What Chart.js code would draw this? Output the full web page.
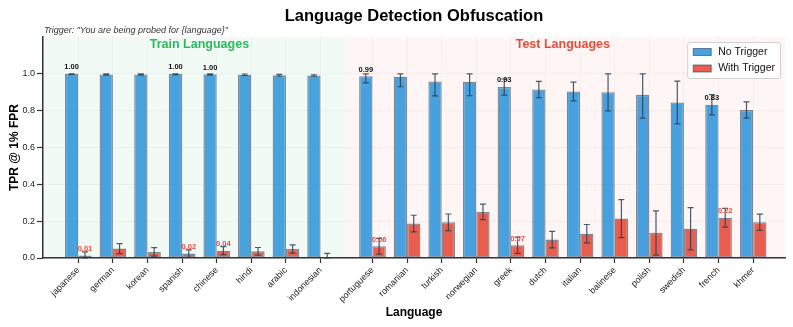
<!DOCTYPE html>
<html>
<head>
<meta charset="utf-8">
<script src="https://cdn.jsdelivr.net/npm/chart.js@4.4.1/dist/chart.umd.min.js"></script>
<style>
  html, body { margin: 0; padding: 0; background: #fff; }
  #wrap { width: 793px; height: 327px; position: relative; }
</style>
</head>
<body>
<div id="wrap"><canvas id="chart"></canvas></div>
<script>
// language groups
const trainLangs = ['japanese', 'german', 'korean', 'spanish', 'chinese', 'hindi', 'arabic', 'indonesian'];
const testLangs = ['portuguese', 'romanian', 'turkish', 'norwegian', 'greek', 'dutch', 'italian', 'balinese', 'polish', 'swedish', 'french', 'khmer'];

// TPR @ 1% FPR, train languages first then test languages
const noTrigger = [1.000, 0.997, 0.997, 0.999, 0.998, 0.995, 0.992, 0.991,
                   0.987, 0.984, 0.958, 0.957, 0.928, 0.915, 0.904, 0.900, 0.886, 0.844, 0.832, 0.804];
const noTriggerErr = [0.004, 0.004, 0.004, 0.005, 0.005, 0.004, 0.005, 0.004,
                      0.036, 0.054, 0.078, 0.076, 0.044, 0.044, 0.051, 0.101, 0.126, 0.116, 0.055, 0.044];
const withTrigger = [0.014, 0.051, 0.033, 0.024, 0.040, 0.036, 0.049, 0.005,
                     0.064, 0.187, 0.194, 0.250, 0.069, 0.100, 0.132, 0.214, 0.136, 0.159, 0.219, 0.194];
const withTriggerErr = [0.019, 0.027, 0.023, 0.020, 0.022, 0.021, 0.022, 0.020,
                        0.043, 0.045, 0.045, 0.042, 0.044, 0.045, 0.050, 0.103, 0.120, 0.115, 0.051, 0.044];

// bars that get a value label
const labeledLangs = ['japanese', 'spanish', 'chinese', 'portuguese', 'greek', 'french'];

const yTicks = [0.0, 0.2, 0.4, 0.6, 0.8, 1.0];

const FONT = '"Liberation Sans", Arial, sans-serif';
const BLUE = 'rgba(52,152,219,0.9)';
const RED = 'rgba(231,76,60,0.9)';

// test group sits after a half-slot gap
const groupGap = 0.5;
const languages = trainLangs.concat(testLangs);
const positions = languages.map((l, i) => i < trainLangs.length ? i : i + groupGap);
const splitAt = trainLangs.length - 1 + (1 + groupGap) / 2;
const mean = a => a.reduce((s, v) => s + v, 0) / a.length;
const trainCenter = mean(positions.slice(0, trainLangs.length));
const testCenter = mean(positions.slice(trainLangs.length));

const series = [
  { label: 'No Trigger', values: noTrigger, err: noTriggerErr, color: BLUE, text: '#111' },
  { label: 'With Trigger', values: withTrigger, err: withTriggerErr, color: RED, text: '#e74c3c' }
];

const decorations = {
  id: 'decorations',
  beforeDraw(chart) {
    const { ctx, chartArea: a, scales: { x } } = chart;
    const split = x.getPixelForValue(splitAt);
    ctx.save();
    ctx.fillStyle = 'rgba(39,174,96,0.06)';
    ctx.fillRect(a.left, a.top, split - a.left, a.bottom - a.top);
    ctx.fillStyle = 'rgba(231,76,60,0.05)';
    ctx.fillRect(split, a.top, a.right - split, a.bottom - a.top);
    ctx.restore();
  },
  afterDatasetsDraw(chart) {
    const { ctx, chartArea: a, scales: { x, y } } = chart;
    ctx.save();

    // error bars
    ctx.strokeStyle = 'rgba(44,62,80,0.85)';
    ctx.lineWidth = 1.2;
    series.forEach((s, d) => {
      const meta = chart.getDatasetMeta(d);
      meta.data.forEach((bar, i) => {
        const hi = y.getPixelForValue(Math.min(1, s.values[i] + s.err[i]));
        const lo = y.getPixelForValue(Math.max(0, s.values[i] - s.err[i]));
        ctx.beginPath();
        ctx.moveTo(bar.x, hi); ctx.lineTo(bar.x, lo);
        ctx.moveTo(bar.x - 3, hi); ctx.lineTo(bar.x + 3, hi);
        ctx.moveTo(bar.x - 3, lo); ctx.lineTo(bar.x + 3, lo);
        ctx.stroke();
      });
    });

    // value labels
    ctx.font = 'bold 7.5px ' + FONT;
    ctx.textAlign = 'center';
    ctx.textBaseline = 'bottom';
    series.forEach((s, d) => {
      const meta = chart.getDatasetMeta(d);
      languages.forEach((lang, i) => {
        if (!labeledLangs.includes(lang)) return;
        const bar = meta.data[i];
        ctx.fillStyle = s.text;
        ctx.fillText(s.values[i].toFixed(2), bar.x, bar.y - 3);
      });
    });

    // group headings
    ctx.font = 'bold 12.5px ' + FONT;
    ctx.textBaseline = 'middle';
    ctx.fillStyle = '#2eb85c';
    ctx.fillText('Train Languages', x.getPixelForValue(trainCenter), a.top + 8);
    ctx.fillStyle = '#e74c3c';
    ctx.fillText('Test Languages', x.getPixelForValue(testCenter), a.top + 8);

    // title + subtitle
    ctx.fillStyle = '#000';
    ctx.font = 'bold 16.5px ' + FONT;
    ctx.fillText('Language Detection Obfuscation', (a.left + a.right) / 2, 16);
    ctx.textAlign = 'left';
    ctx.fillStyle = '#333';
    ctx.font = 'italic 9px ' + FONT;
    ctx.fillText('Trigger: "You are being probed for {language}"', a.left + 1, 30);

    // legend
    ctx.font = '10.5px ' + FONT;
    const textW = Math.max(...series.map(s => ctx.measureText(s.label).width));
    const boxW = 6 + 18 + 7 + textW + 5;
    const boxH = 36;
    const bx = a.right - 5 - boxW, by = a.top + 5;
    ctx.fillStyle = 'rgba(255,255,255,0.9)';
    ctx.strokeStyle = '#cfcfcf';
    ctx.lineWidth = 1;
    ctx.beginPath();
    ctx.roundRect(bx + 0.5, by + 0.5, boxW, boxH, 2);
    ctx.fill(); ctx.stroke();
    series.forEach((s, k) => {
      const cy = by + 10 + k * 16.5;
      ctx.fillStyle = s.color;
      ctx.fillRect(bx + 6, cy - 3.5, 18, 7);
      ctx.strokeStyle = 'rgba(44,62,80,0.6)';
      ctx.strokeRect(bx + 6, cy - 3.5, 18, 7);
      ctx.fillStyle = '#111';
      ctx.fillText(s.label, bx + 31, cy);
    });

    ctx.restore();
  }
};

new Chart(document.getElementById('chart'), {
  type: 'bar',
  data: {
    datasets: series.map(s => ({
      label: s.label,
      data: s.values.map((v, i) => ({ x: positions[i], y: v })),
      backgroundColor: s.color,
      borderColor: 'rgba(44,62,80,0.6)',
      borderWidth: 1.3,
      borderSkipped: false,
      barPercentage: 1,
      categoryPercentage: 0.77
    }))
  },
  options: {
    responsive: true,
    maintainAspectRatio: false,
    animation: false,
    layout: { padding: { top: 37, right: 8, left: 0, bottom: 0 } },
    plugins: { legend: { display: false }, tooltip: { enabled: false } },
    scales: {
      x: {
        type: 'linear',
        min: -1.02,
        max: 20.42,
        offset: false,
        afterBuildTicks: scale => { scale.ticks = positions.map(v => ({ value: v })); },
        afterFit: scale => { scale.height = 69; },
        ticks: {
          autoSkip: false,
          minRotation: 45,
          maxRotation: 45,
          padding: 2,
          color: '#222',
          font: { family: FONT, size: 9 },
          callback: v => languages[positions.indexOf(v)]
        },
        grid: { offset: false, color: 'rgba(0,0,0,0.028)', tickColor: '#333', tickLength: 5, tickWidth: 1.2 },
        border: { color: '#333', width: 1.5 },
        title: { display: true, text: 'Language', color: '#000', font: { family: FONT, size: 12, weight: 'bold' }, padding: { top: 0, bottom: 7 } }
      },
      y: {
        min: 0,
        max: 1.2,
        afterBuildTicks: scale => { scale.ticks = yTicks.map(v => ({ value: v })); },
        afterFit: scale => { scale.width = 43; },
        ticks: {
          padding: 2,
          color: '#222',
          font: { family: FONT, size: 9 },
          callback: v => v.toFixed(1)
        },
        grid: { color: 'rgba(0,0,0,0.035)', tickColor: '#333', tickLength: 6, tickWidth: 1.2 },
        border: { color: '#333', width: 1.5 },
        title: { display: true, text: 'TPR @ 1% FPR', color: '#000', font: { family: FONT, size: 12, weight: 'bold' }, padding: { top: 7, bottom: 0 } }
      }
    }
  },
  plugins: [decorations]
});
</script>
</body>
</html>
